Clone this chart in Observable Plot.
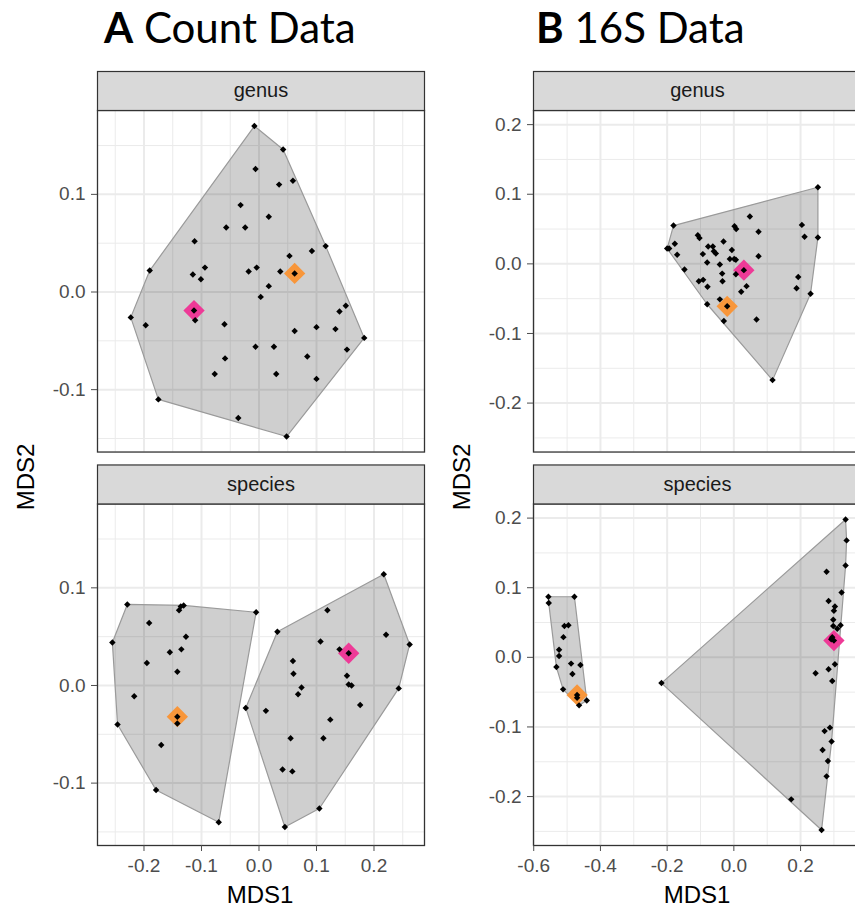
<!DOCTYPE html>
<html><head><meta charset="utf-8">
<script src="https://cdn.jsdelivr.net/npm/d3@7"></script>
<script src="https://cdn.jsdelivr.net/npm/@observablehq/plot@0.6"></script>
<style>
body{margin:0;background:#fff;}
#wrap{position:relative;width:855px;height:910px;overflow:hidden;background:#fff;}
.panel{position:absolute;top:0;}
.title{position:absolute;top:6px;font-family:Lato,"Open Sans",sans-serif;font-size:42px;line-height:42px;color:#000;white-space:nowrap;}
.axt{position:absolute;font-family:"Liberation Sans",Arial,sans-serif;font-size:24px;line-height:24px;color:#000;white-space:nowrap;}
</style></head><body><div id="wrap"></div>
<script>
// ---------- data ----------
const facets = ["genus", "species"];
const medoidColors = ["#ee3a97", "#f8963a"]; // pink, orange

// A: Count data
const countGenus = [[-0.008,0.170],[0.042,0.146],[-0.006,0.126],[0.035,0.110],[0.059,0.114],[-0.032,0.089],[0.017,0.077],[-0.057,0.066],[-0.024,0.066],[-0.112,0.052],[0.116,0.047],[0.092,0.042],[0.053,0.037],[-0.190,0.022],[-0.094,0.025],[-0.115,0.018],[-0.101,0.013],[-0.004,0.025],[-0.018,0.021],[0.037,0.021],[0.062,0.019],[0.017,0.006],[0.003,-0.005],[-0.113,-0.019],[-0.111,-0.029],[-0.223,-0.026],[-0.197,-0.034],[-0.060,-0.033],[0.151,-0.014],[0.140,-0.020],[0.062,-0.040],[0.100,-0.036],[0.133,-0.038],[0.183,-0.047],[-0.006,-0.056],[0.026,-0.056],[0.153,-0.059],[0.084,-0.066],[-0.059,-0.068],[-0.077,-0.084],[0.030,-0.084],[0.100,-0.089],[-0.175,-0.110],[-0.036,-0.129],[0.048,-0.148]];
const countSpeciesLeft = [[-0.229,0.083],[-0.136,0.081],[-0.131,0.082],[-0.139,0.077],[-0.005,0.075],[-0.191,0.064],[-0.127,0.050],[-0.255,0.044],[-0.135,0.037],[-0.155,0.034],[-0.195,0.023],[-0.142,0.014],[-0.217,-0.011],[-0.142,-0.032],[-0.142,-0.039],[-0.246,-0.040],[-0.170,-0.061],[-0.179,-0.107],[-0.070,-0.140]];
const countSpeciesRight = [[0.217,0.114],[0.119,0.077],[0.032,0.055],[0.221,0.052],[0.107,0.045],[0.262,0.042],[0.140,0.037],[0.156,0.033],[0.059,0.025],[0.060,0.012],[0.153,0.010],[0.156,0.001],[0.161,0.000],[0.074,-0.002],[0.068,-0.009],[0.243,-0.003],[-0.023,-0.023],[0.012,-0.026],[0.176,-0.020],[0.124,-0.035],[0.055,-0.054],[0.112,-0.054],[0.041,-0.086],[0.058,-0.088],[0.105,-0.126],[0.045,-0.145]];
const countMedoidsGenus = [[-0.113,-0.019],[0.062,0.019]];    // pink, orange
const countMedoidsSpecies = [[0.156,0.033],[-0.142,-0.032]];  // pink, orange
const countXTicks = [-0.2,-0.1,0.0,0.1,0.2];
const countXMinor = [-0.25,-0.15,-0.05,0.05,0.15,0.25];
const countYTicks = [-0.1,0.0,0.1];
const countYMinor = [-0.15,-0.05,0.05,0.15];

// B: 16S data
const s16Genus = [[0.252,0.110],[-0.181,0.055],[0.048,0.068],[0.002,0.054],[0.007,0.050],[0.074,0.046],[0.204,0.056],[0.212,0.039],[0.252,0.038],[-0.108,0.041],[-0.103,0.037],[-0.177,0.029],[-0.200,0.022],[-0.194,0.022],[-0.077,0.025],[-0.063,0.025],[-0.031,0.032],[-0.060,0.018],[-0.054,0.015],[-0.093,0.014],[-0.170,0.013],[-0.006,0.020],[0.074,0.011],[-0.012,0.007],[0.001,0.007],[0.006,0.006],[-0.080,0.002],[-0.042,-0.001],[-0.148,-0.008],[0.030,-0.009],[-0.035,-0.014],[0.006,-0.015],[-0.105,-0.025],[-0.092,-0.023],[-0.034,-0.025],[0.193,-0.019],[-0.079,-0.033],[0.038,-0.032],[0.188,-0.035],[0.022,-0.040],[0.230,-0.043],[-0.042,-0.051],[-0.080,-0.058],[-0.020,-0.061],[-0.030,-0.082],[0.068,-0.080],[0.116,-0.167]];
const s16SpeciesLeft = [[-0.556,0.087],[-0.478,0.087],[-0.555,0.078],[-0.508,0.045],[-0.496,0.046],[-0.511,0.029],[-0.524,0.011],[-0.524,0.002],[-0.532,-0.014],[-0.488,-0.009],[-0.460,-0.011],[-0.484,-0.024],[-0.512,-0.046],[-0.470,-0.054],[-0.441,-0.062],[-0.464,-0.069],[-0.470,-0.058]];
const s16SpeciesRight = [[0.335,0.198],[0.338,0.168],[0.335,0.132],[0.278,0.123],[0.323,0.093],[0.284,0.081],[0.303,0.073],[0.300,0.067],[0.298,0.054],[0.320,0.046],[0.298,0.045],[0.310,0.041],[0.295,0.029],[0.300,0.024],[0.292,0.026],[0.303,-0.010],[0.284,-0.017],[0.245,-0.023],[0.295,-0.034],[-0.217,-0.037],[0.288,-0.101],[0.272,-0.106],[0.293,-0.121],[0.266,-0.133],[0.282,-0.149],[0.278,-0.171],[0.172,-0.204],[0.263,-0.248]];
const s16MedoidsGenus = [[0.030,-0.009],[-0.020,-0.061]];
const s16MedoidsSpecies = [[0.300,0.024],[-0.470,-0.054]];
const s16XTicks = [-0.6,-0.4,-0.2,0.0,0.2];
const s16XMinor = [-0.5,-0.3,-0.1,0.1,0.3];
const s16YTicks = [-0.2,-0.1,0.0,0.1,0.2];
const s16YMinor = [-0.25,-0.15,-0.05,0.05,0.15];

// ---------- helpers ----------
const rows = (arr, facet, group) => arr.map(([x, y]) => ({x, y, facet, group}));
const medRows = (arr, facet) => arr.map(([x, y], i) => ({x, y, facet, color: medoidColors[i]}));
const expand = (v) => { const [a, b] = d3.extent(v); const e = (b - a) * 0.05; return [a - e, b + e]; };
const fmt = (d) => d.toFixed(1);

const H = 910, MT = 110, MB = 65, PAD = 0.132;
const BW = (H - MT - MB) * (1 - PAD) / (2 - PAD); // facet band height
const STRIP = 39;

function panel({data, medoids, xTicks, xMinor, yTicks, yMinor, width, marginLeft, marginRight}) {
  return Plot.plot({
    width, height: H, marginTop: MT, marginBottom: MB, marginLeft, marginRight,
    style: {fontFamily: "'Liberation Sans', Arial, sans-serif", fontSize: "19px", background: "transparent", overflow: "visible"},
    x: {domain: expand(data.map(d => d.x)), label: null},
    y: {domain: expand(data.map(d => d.y)), label: null},
    fy: {domain: facets, paddingInner: PAD, paddingOuter: 0, round: false, axis: null, label: null},
    color: {type: "identity"},
    marks: [
      Plot.frame({fill: "white"}),
      Plot.gridX(xMinor, {stroke: "#ebebeb", strokeOpacity: 1, strokeWidth: 1}),
      Plot.gridY(yMinor, {stroke: "#ebebeb", strokeOpacity: 1, strokeWidth: 1}),
      Plot.gridX(xTicks, {stroke: "#ebebeb", strokeOpacity: 1, strokeWidth: 2}),
      Plot.gridY(yTicks, {stroke: "#ebebeb", strokeOpacity: 1, strokeWidth: 2}),
      Plot.hull(data, {x: "x", y: "y", z: "group", fy: "facet", fill: "black", fillOpacity: 0.19, stroke: "#9a9a9a", strokeWidth: 1.2}),
      Plot.dot(medoids, {x: "x", y: "y", fy: "facet", symbol: "diamond2", r: 9.6, fill: "color", stroke: null}),
      Plot.dot(data, {x: "x", y: "y", fy: "facet", symbol: "diamond2", r: 2.9, fill: "black", stroke: null}),
      Plot.frame({stroke: "#333", strokeWidth: 1.3}),
      Plot.frame({insetTop: -STRIP, insetBottom: BW, fill: "#d9d9d9", stroke: "#333", strokeWidth: 1.2}),
      Plot.text(facets, {fy: d => d, text: d => d, frameAnchor: "top", lineAnchor: "middle", dy: -STRIP / 2, fill: "#1a1a1a", fontSize: 20}),
      Plot.axisY(yTicks, {tickFormat: fmt, tickSize: 6, tickPadding: 6, fontSize: 19, color: "#4d4d4d", label: null}),
      Plot.axisX(xTicks, {tickFormat: fmt, tickSize: 6, tickPadding: 7, fontSize: 19, color: "#4d4d4d", label: null, facetAnchor: "bottom"})
    ]
  });
}

const countData = [...rows(countGenus, "genus", "g1"), ...rows(countSpeciesLeft, "species", "s1"), ...rows(countSpeciesRight, "species", "s2")];
const countMed = [...medRows(countMedoidsGenus, "genus"), ...medRows(countMedoidsSpecies, "species")];
const s16Data = [...rows(s16Genus, "genus", "g1"), ...rows(s16SpeciesLeft, "species", "s1"), ...rows(s16SpeciesRight, "species", "s2")];
const s16Med = [...medRows(s16MedoidsGenus, "genus"), ...medRows(s16MedoidsSpecies, "species")];

const wrap = document.getElementById("wrap");
const pA = panel({data: countData, medoids: countMed, xTicks: countXTicks, xMinor: countXMinor, yTicks: countYTicks, yMinor: countYMinor, width: 430, marginLeft: 97, marginRight: 6});
pA.classList.add("panel"); pA.style.left = "0px";
wrap.appendChild(pA);
const pB = panel({data: s16Data, medoids: s16Med, xTicks: s16XTicks, xMinor: s16XMinor, yTicks: s16YTicks, yMinor: s16YMinor, width: 437, marginLeft: 103, marginRight: 6});
pB.classList.add("panel"); pB.style.left = "430px";
wrap.appendChild(pB);

function addDiv(cls, html, css) {
  const d = document.createElement("div");
  d.className = cls; d.innerHTML = html; Object.assign(d.style, css);
  wrap.appendChild(d);
}
addDiv("title", "<b>A</b> Count Data", {left: "104px"});
addDiv("title", "<b>B</b> 16S Data", {left: "536px"});
addDiv("axt", "MDS1", {left: "260px", top: "883px", transform: "translateX(-50%)"});
addDiv("axt", "MDS1", {left: "697px", top: "883px", transform: "translateX(-50%)"});
addDiv("axt", "MDS2", {left: "26px", top: "477px", transform: "translate(-50%,-50%) rotate(-90deg)"});
addDiv("axt", "MDS2", {left: "462px", top: "477px", transform: "translate(-50%,-50%) rotate(-90deg)"});
</script></body></html>
